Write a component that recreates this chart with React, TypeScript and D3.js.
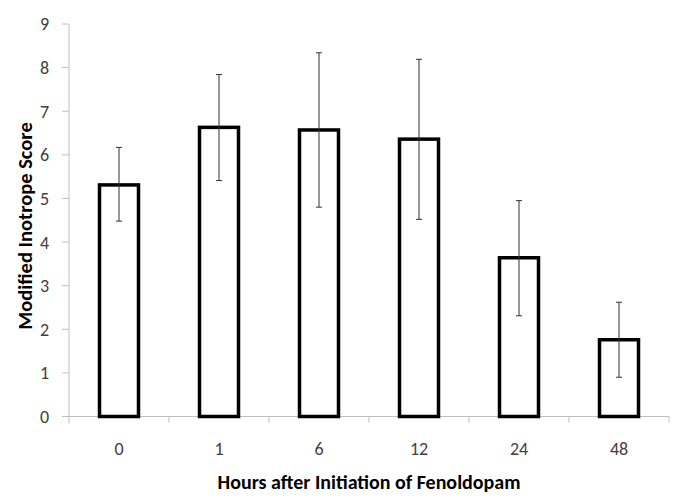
import React from "react";
import * as d3 from "d3";

const categories = ["0", "1", "6", "12", "24", "48"];
const values = [5.31, 6.63, 6.57, 6.36, 3.64, 1.76];
const errUpper = [6.17, 7.84, 8.34, 8.19, 4.95, 2.62];
const errLower = [4.48, 5.41, 4.8, 4.52, 2.31, 0.9];
const yTicks = [0, 1, 2, 3, 4, 5, 6, 7, 8, 9];

const W = 685;
const H = 504;
const left = 69;
const right = 669;
const top = 24;
const bottom = 416.5;
const font = "Carlito, Lato, 'Open Sans', sans-serif";

export default function App() {
  const x = d3.scaleBand<string>().domain(categories).range([left, right]).padding(0);
  const y = d3.scaleLinear().domain([0, 9]).range([bottom, top]);
  const bw = 39;
  return (
    <svg width={W} height={H} style={{ position: "absolute", left: 0, top: 0, background: "#fff" }}>
      {/* y axis */}
      <line x1={left} x2={left} y1={top} y2={bottom + 7} stroke="#bfbfbf" strokeWidth={1} />
      {yTicks.map((t) => (
        <g key={t}>
          <line x1={left - 7} x2={left} y1={y(t)} y2={y(t)} stroke="#bfbfbf" strokeWidth={1} />
          <text x={49} y={y(t)} dy="0.36em" textAnchor="end" fontFamily={font} fontSize={18} fill="#404040">
            {t}
          </text>
        </g>
      ))}
      {/* x axis */}
      <line x1={left} x2={right} y1={bottom} y2={bottom} stroke="#bfbfbf" strokeWidth={1} />
      {categories.map((c, i) => (
        <line key={"xt" + i} x1={(x(c) as number) + x.bandwidth()} x2={(x(c) as number) + x.bandwidth()} y1={bottom} y2={bottom + 6} stroke="#bfbfbf" strokeWidth={1} />
      ))}
      {categories.map((c) => (
        <text key={"xl" + c} x={(x(c) as number) + x.bandwidth() / 2} y={455} textAnchor="middle" fontFamily={font} fontSize={18} fill="#404040">
          {c}
        </text>
      ))}
      {/* bars */}
      {categories.map((c, i) => {
        const cx = (x(c) as number) + x.bandwidth() / 2;
        return (
          <rect key={"b" + c} x={cx - bw / 2} y={y(values[i])} width={bw} height={bottom - y(values[i])} fill="#fff" stroke="#000" strokeWidth={3.5} />
        );
      })}
      {/* error bars */}
      {categories.map((c, i) => {
        const cx = (x(c) as number) + x.bandwidth() / 2;
        return (
          <g key={"e" + c} stroke="#333" strokeWidth={1}>
            <line x1={cx} x2={cx} y1={y(errUpper[i])} y2={y(errLower[i])} />
            <line x1={cx - 3} x2={cx + 3} y1={y(errUpper[i])} y2={y(errUpper[i])} />
            <line x1={cx - 3} x2={cx + 3} y1={y(errLower[i])} y2={y(errLower[i])} />
          </g>
        );
      })}
      {/* titles */}
      <text x={369} y={489} textAnchor="middle" fontFamily={font} fontSize={20} fontWeight="bold" fill="#000">
        Hours after Initiation of Fenoldopam
      </text>
      <text transform={`translate(32, 226) rotate(-90)`} textAnchor="middle" fontFamily={font} fontSize={20.5} fontWeight="bold" fill="#000">
        Modified Inotrope Score
      </text>
    </svg>
  );
}
